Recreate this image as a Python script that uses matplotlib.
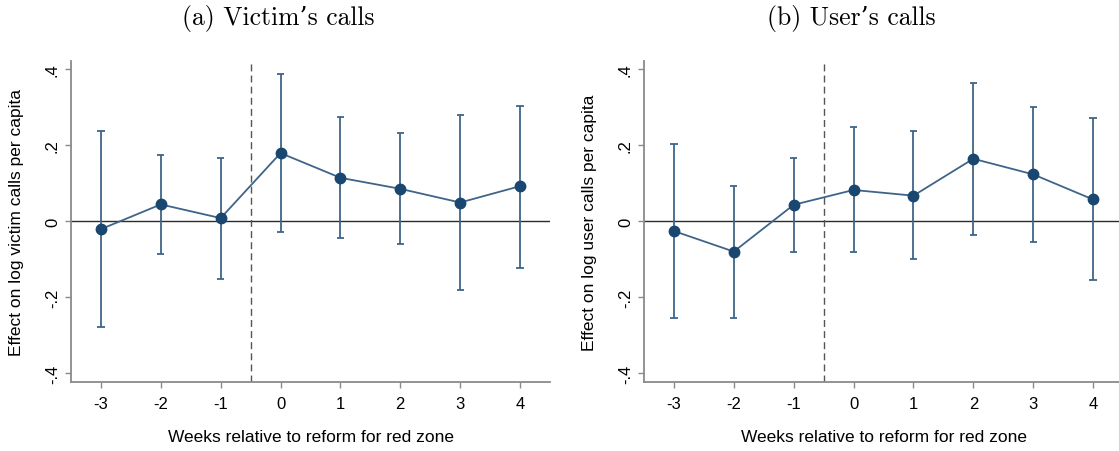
import matplotlib
matplotlib.use("Agg")
import matplotlib.pyplot as plt

plt.rcParams["font.family"] = ["Liberation Sans", "DejaVu Sans"]

# event-time data
weeks = [-3, -2, -1, 0, 1, 2, 3, 4]
week_labels = ["-3", "-2", "-1", "0", "1", "2", "3", "4"]
yticks = [-0.4, -0.2, 0, 0.2, 0.4]
ytick_labels = ["-.4", "-.2", "0", ".2", ".4"]

victim_coef = [-0.021, 0.044, 0.008, 0.179, 0.114, 0.085, 0.049, 0.092]
victim_lo = [-0.277, -0.086, -0.151, -0.029, -0.044, -0.060, -0.181, -0.122]
victim_hi = [0.236, 0.174, 0.167, 0.387, 0.274, 0.232, 0.280, 0.304]

user_coef = [-0.026, -0.080, 0.043, 0.082, 0.067, 0.164, 0.123, 0.057]
user_lo = [-0.254, -0.254, -0.081, -0.081, -0.100, -0.037, -0.055, -0.155]
user_hi = [0.202, 0.093, 0.166, 0.247, 0.236, 0.364, 0.301, 0.271]

navy = "#1a476f"
barcolor = "#3f6489"
spinecolor = "#8a8a8a"


def panel(ax, coef, lo, hi, ylabel):
    ax.axhline(0, color="#2b2b2b", lw=1.0, zorder=1)
    ax.axvline(-0.5, color="#555555", lw=1.0, ls=(0, (5, 3)), zorder=1)
    ax.vlines(weeks, lo, hi, color=barcolor, lw=1.3, zorder=2)
    ax.hlines(lo, [w - 0.06 for w in weeks], [w + 0.06 for w in weeks], color=barcolor, lw=1.3, zorder=2)
    ax.hlines(hi, [w - 0.06 for w in weeks], [w + 0.06 for w in weeks], color=barcolor, lw=1.3, zorder=2)
    ax.plot(weeks, coef, "-", color=barcolor, lw=1.3, zorder=3)
    ax.plot(weeks, coef, "o", color=navy, ms=7.5, zorder=4)

    ax.set_xlim(-3.5, 4.5)
    ax.set_ylim(-0.4236, 0.4218)
    ax.set_xticks(weeks, week_labels)
    ax.set_yticks(yticks, ytick_labels)
    for lab in ax.get_yticklabels():
        lab.set_rotation(90)
        lab.set_va("center")
    ax.tick_params(axis="both", colors=spinecolor, labelcolor="black", labelsize=12,
                   length=4, width=1.0, direction="out")
    ax.tick_params(axis="x", pad=6)
    ax.tick_params(axis="y", pad=4)
    for side in ["top", "right"]:
        ax.spines[side].set_visible(False)
    for side in ["left", "bottom"]:
        ax.spines[side].set_color(spinecolor)
        ax.spines[side].set_linewidth(1.3)
    ax.set_xlabel("Weeks relative to reform for red zone", fontsize=12.5, va="center")
    ax.xaxis.set_label_coords(0.5, -0.167)
    ax.set_ylabel(ylabel, fontsize=12.5, va="center")
    ax.yaxis.set_label_coords(-0.1148, 0.5)


fig = plt.figure(figsize=(11.19, 4.52), dpi=100)
ax1 = fig.add_axes([71 / 1119, 1 - 383.3 / 452, 479 / 1119, 321.6 / 452])
ax2 = fig.add_axes([644 / 1119, 1 - 383.3 / 452, 479 / 1119, 321.6 / 452])

panel(ax1, victim_coef, victim_lo, victim_hi, "Effect on log victim calls per capita")
panel(ax2, user_coef, user_lo, user_hi, "Effect on log user calls per capita")

fig.text(278.5 / 1119, 1 - 19 / 452, "(a) Victim\u2019s calls", family=["cmr10", "DejaVu Serif"],
         fontsize=18.5, ha="center", va="center")
fig.text(851 / 1119, 1 - 19 / 452, "(b) User\u2019s calls", family=["cmr10", "DejaVu Serif"],
         fontsize=18.5, ha="center", va="center")

fig.savefig("out.png", dpi=100)
